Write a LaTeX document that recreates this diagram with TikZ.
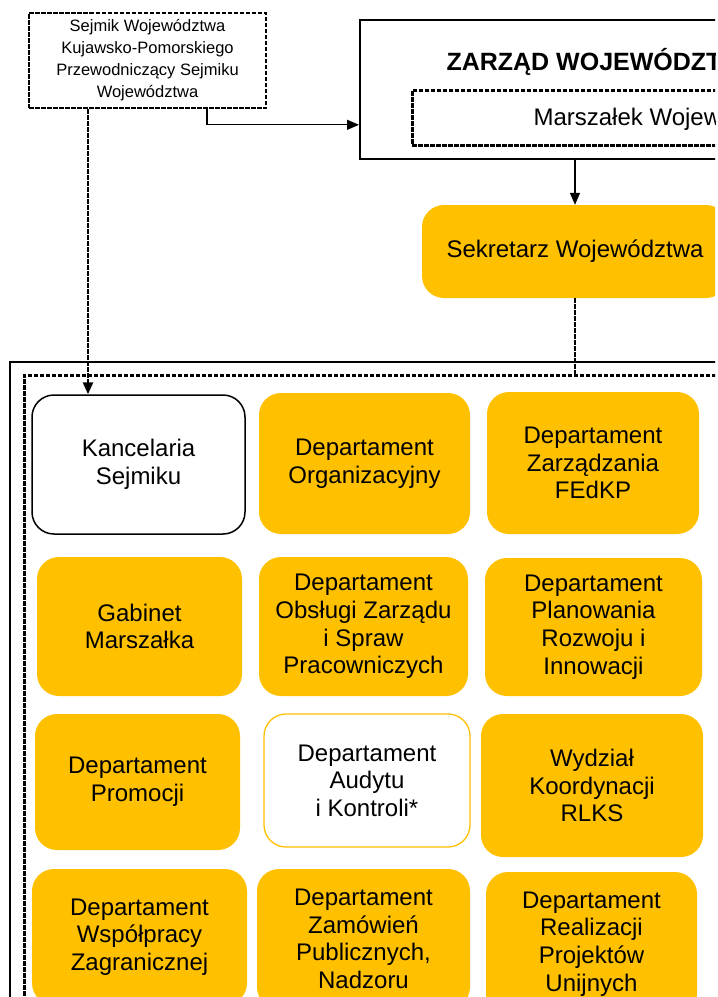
\documentclass[tikz,border=0pt]{standalone}
\usepackage{fontspec}
\setmainfont{Liberation Sans}
\usetikzlibrary{arrows.meta}
\definecolor{zloty}{RGB}{255,192,0}
\newcommand{\duzy}{\fontsize{24}{27.6}\selectfont}

\begin{document}
\begin{tikzpicture}[x=1pt,y=-1pt,>={Triangle[length=12pt,width=10pt]},
        dept/.style={rounded corners=22pt,fill=zloty,align=center,font=\duzy,inner sep=2pt},
        white dept/.style={dept,fill=white,draw=black,line width=1.5pt},
        audit dept/.style={dept,fill=white,draw=zloty,line width=1.3pt},
        przer/.style={dash pattern=on 4.5pt off 1.5pt,line width=2.6pt},
        sejmik box/.style={draw,przer,align=center,minimum width=237,minimum height=95,
            font=\fontsize{16.5}{22}\selectfont},
        link/.style={->,line width=1.3pt}]

\useasboundingbox (0,0) rectangle (718,997);
\clip (0,0) rectangle (715,997);

% gora: sejmik, zarzad, sekretarz
\node[sejmik box] (sejmik) at (147.5,60.5) {Sejmik Województwa\\Kujawsko-Pomorskiego\\Przewodniczący Sejmiku\\Województwa};
\node[draw,line width=1.8pt,anchor=north west,minimum width=600,minimum height=139] (zarzad) at (359,19) {};
\node[anchor=base west,font=\bfseries\fontsize{25}{30}\selectfont] (zarzadtyt) at (443,70) {ZARZĄD WOJEWÓDZTWA};
\node[draw,przer,anchor=north west,minimum width=500,minimum height=55] (marszalek) at (411,89) {};
\node[anchor=base west,font=\duzy] (marszalektxt) at (530,125) {Marszałek Województwa};
\node[dept,minimum width=306,minimum height=93] (sekr) at (575,251.5) {Sekretarz Województwa};

% ramki
\node[draw,line width=1.5pt,anchor=north west,minimum width=900,minimum height=800] (ramka) at (9,361) {};
\node[draw,przer,anchor=north west,minimum width=900,minimum height=800] (dzialy) at (23,374) {};

% komorki - rzad 1
\node[white dept,minimum width=213,minimum height=139] (kanc) at (138.5,464.5) {Kancelaria\\Sejmiku};
\node[dept,minimum width=211,minimum height=141] (org) at (364.5,463.5) {Departament\\Organizacyjny};
\node[dept,minimum width=212,minimum height=142] (fedkp) at (593,463) {Departament\\Zarządzania\\FEdKP};
% rzad 2
\node[dept,minimum width=205,minimum height=139] (gab) at (139.5,626.5) {Gabinet\\Marszałka};
\node[dept,minimum width=209,minimum height=139] (obsl) at (363.5,626.5) {Departament\\Obsługi Zarządu\\i Spraw\\Pracowniczych};
\node[dept,minimum width=217,minimum height=138] (plan) at (593.5,627) {Departament\\Planowania\\Rozwoju i\\Innowacji};
% rzad 3
\node[dept,minimum width=205,minimum height=136] (prom) at (137.5,782) {Departament\\Promocji};
\node[audit dept,minimum width=206,minimum height=133] (audyt) at (367,780.5) {Departament\\Audytu\\i Kontroli*};
\node[dept,minimum width=222,minimum height=143] (rlks) at (592,785.5) {Wydział\\Koordynacji\\RLKS};
% rzad 4
\node[dept,minimum width=215,minimum height=136] (wspol) at (139.5,937) {Departament\\Współpracy\\Zagranicznej};
\node[dept,minimum width=213,minimum height=140] (zamow) at (363.5,939) {Departament\\Zamówień\\Publicznych,\\Nadzoru};
\node[dept,minimum width=211,minimum height=144] (realiz) at (591.5,944) {Departament\\Realizacji\\Projektów\\Unijnych};

% polaczenia
\draw[link] ([xshift=59.5]sejmik.south) |- ([yshift=35]zarzad.south west);
\draw[link] (sekr.north |- zarzad.south) -- (sekr.north);
\draw[przer] (sekr.south) -- (sekr.south |- dzialy.north);
\draw[przer,->] ([xshift=-59.5]sejmik.south) -- ([xshift=-59.5]sejmik.south |- kanc.north);

\end{tikzpicture}
\end{document}
